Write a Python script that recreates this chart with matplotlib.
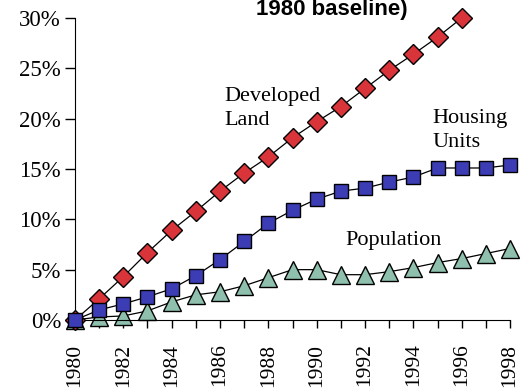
import matplotlib.pyplot as plt

years = list(range(1980, 1999))

developed_land = [0.0, 2.1, 4.3, 6.7, 8.9, 10.8, 12.8, 14.6, 16.2, 18.1,
                  19.7, 21.2, 23.0, 24.8, 26.4, 28.1, 30.0]
housing_units = [0.0, 1.0, 1.6, 2.3, 3.1, 4.4, 6.0, 7.8, 9.6, 10.9,
                 12.0, 12.8, 13.1, 13.7, 14.2, 15.1, 15.1, 15.1, 15.4]
population = [0.0, 0.3, 0.4, 0.9, 1.8, 2.5, 2.8, 3.4, 4.2, 5.0,
              5.0, 4.5, 4.5, 4.8, 5.2, 5.7, 6.1, 6.6, 7.1]

ytick_vals = [0, 5, 10, 15, 20, 25, 30]
ytick_labels = ["0%", "5%", "10%", "15%", "20%", "25%", "30%"]

serif = "Liberation Serif"

fig = plt.figure(figsize=(5.31, 3.88), dpi=100)
ax = fig.add_axes([0.1412, 0.1753, 0.8193, 0.7783])

# series
ax.plot(years[:len(developed_land)], developed_land, color="black", lw=0.9,
        marker="D", ms=10.5, mfc="#d8343a", mec="black", mew=1, clip_on=False, zorder=3)
ax.plot(years, housing_units, color="black", lw=0.9,
        marker="s", ms=10.5, mfc="#3c3cb4", mec="black", mew=1, clip_on=False, zorder=3)
ax.plot(years, population, color="black", lw=0.9,
        marker="^", ms=13, mfc="#8fc0ad", mec="black", mew=1, clip_on=False, zorder=2)

ax.set_xlim(1980, 1998)
ax.set_ylim(0, 30)

ax.spines["top"].set_visible(False)
ax.spines["right"].set_visible(False)

ax.set_yticks(ytick_vals)
ax.set_yticklabels(ytick_labels, fontfamily=serif, fontsize=16.5)
ax.set_xticks(years)
ax.set_xticklabels([str(y) if y % 2 == 0 else "" for y in years],
                   rotation=90, fontfamily=serif, fontsize=15.5)
ax.tick_params(axis="y", direction="out", length=7, width=1, pad=3)
ax.tick_params(axis="x", direction="out", length=6, width=1, pad=11)

# labels on the chart
ax.text(1986.2, 21.0, "Developed\nLand", fontfamily=serif, fontsize=16,
        ha="left", va="center", linespacing=1.35)
ax.text(1994.8, 18.8, "Housing\nUnits", fontfamily=serif, fontsize=16,
        ha="left", va="center", linespacing=1.35)
ax.text(1991.2, 7.9, "Population", fontfamily=serif, fontsize=16,
        ha="left", va="center")

fig.text(0.624, 0.975, "1980 baseline)", fontfamily="Liberation Sans",
         fontweight="bold", fontsize=16, ha="center", va="center")

fig.savefig("out.png", dpi=100)
